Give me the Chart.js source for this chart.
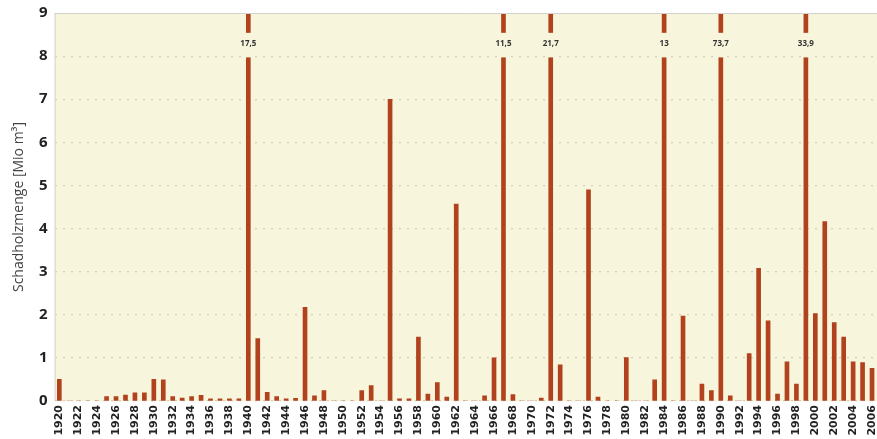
<!DOCTYPE html>
<html>
<head>
<meta charset="utf-8">
<script src="https://cdn.jsdelivr.net/npm/chart.js@4.4.0/dist/chart.umd.min.js"></script>
<style>
  html, body { margin: 0; padding: 0; background: #fff; overflow: hidden; }
  #wrap { width: 877px; height: 439px; overflow: hidden; position: relative; }
  #wrap canvas#myChart {
    display: block; position: absolute; left: 0; top: 0;
    width: 890px !important; height: 439px !important; max-width: none !important; max-height: none !important;
  }
</style>
</head>
<body>
<div id="wrap"><canvas id="myChart" width="890" height="439"></canvas></div>
<script>
const years = [
  "1920", "1921", "1922", "1923", "1924", "1925", "1926", "1927", "1928", "1929",
  "1930", "1931", "1932", "1933", "1934", "1935", "1936", "1937", "1938", "1939",
  "1940", "1941", "1942", "1943", "1944", "1945", "1946", "1947", "1948", "1949",
  "1950", "1951", "1952", "1953", "1954", "1955", "1956", "1957", "1958", "1959",
  "1960", "1961", "1962", "1963", "1964", "1965", "1966", "1967", "1968", "1969",
  "1970", "1971", "1972", "1973", "1974", "1975", "1976", "1977", "1978", "1979",
  "1980", "1981", "1982", "1983", "1984", "1985", "1986", "1987", "1988", "1989",
  "1990", "1991", "1992", "1993", "1994", "1995", "1996", "1997", "1998", "1999",
  "2000", "2001", "2002", "2003", "2004", "2005", "2006", "2007"
];

// Schadholzmenge in Mio m³
const schadholz = [
  0.5, 0, 0, 0, 0, 0.1, 0.1, 0.14, 0.19, 0.19,
  0.5, 0.49, 0.1, 0.07, 0.1, 0.13, 0.05, 0.05, 0.05, 0.05,
  17.5, 1.45, 0.2, 0.1, 0.05, 0.06, 2.17, 0.12, 0.24, 0,
  0, 0, 0.24, 0.36, 0, 7.0, 0.05, 0.05, 1.48, 0.16,
  0.43, 0.09, 4.57, 0, 0, 0.12, 1.0, 11.5, 0.15, 0,
  0, 0.07, 21.7, 0.84, 0, 0, 4.9, 0.09, 0, 0,
  1.01, 0, 0, 0.49, 13, 0, 1.97, 0, 0.39, 0.24,
  73.7, 0.12, 0, 1.1, 3.08, 1.86, 0.16, 0.91, 0.39, 33.9,
  2.03, 4.16, 1.82, 1.48, 0.91, 0.89, 0.76, 37
];

const yTicks = [0, 1, 2, 3, 4, 5, 6, 7, 8, 9];

const bgColor = "#f7f5dc";
const barColor = "#b2421d";

const breakPlugin = {
  id: "breakPlugin",
  beforeDraw(chart) {
    const { ctx, chartArea: a } = chart;
    ctx.save();
    ctx.fillStyle = bgColor;
    ctx.fillRect(a.left, a.top, a.right - a.left, a.bottom - a.top);
    ctx.restore();
  },
  afterDatasetsDraw(chart) {
    const { ctx, chartArea: a } = chart;
    const x = chart.scales.x;
    const y = chart.scales.y;
    const top = yTicks[yTicks.length - 1];
    ctx.save();
    ctx.strokeStyle = "#d2d2cc";
    ctx.lineWidth = 1;
    ctx.beginPath();
    ctx.moveTo(a.left, a.top + 0.5);
    ctx.lineTo(a.right, a.top + 0.5);
    ctx.moveTo(a.left + 0.5, a.top);
    ctx.lineTo(a.left + 0.5, a.bottom);
    ctx.stroke();

    schadholz.forEach((v, i) => {
      if (v <= top) return;
      const px = x.getPixelForValue(i);
      const y1 = y.getPixelForValue(8.54);
      const y2 = y.getPixelForValue(7.97);
      ctx.fillStyle = bgColor;
      ctx.fillRect(px - 4, y1, 8, y2 - y1);
      ctx.fillStyle = "#333";
      ctx.font = "bold 8px 'Open Sans'";
      ctx.textAlign = "center";
      ctx.textBaseline = "middle";
      ctx.fillText(String(v).replace(".", ","), px, y.getPixelForValue(8.28));
    });
    ctx.restore();
  }
};

const divChart = document.getElementById("myChart");

const myChart = new Chart(divChart, {
  type: "bar",
  data: {
    labels: years,
    datasets: [
      {
        label: "Schadholzmenge",
        data: schadholz,
        backgroundColor: barColor,
        borderWidth: 0,
        barThickness: 4,
      },
    ],
  },
  options: {
    responsive: false,
    maintainAspectRatio: false,
    animation: false,
    // canvas is wider than the window so the last bar is cut off, like the original
    layout: { padding: { top: 13, left: 0, right: 3.8, bottom: 0 } },
    plugins: {
      legend: { display: false },
      tooltip: { enabled: false },
    },
    scales: {
      x: {
        grid: { display: false, drawTicks: false },
        border: { display: false },
        ticks: {
          autoSkip: false,
          minRotation: 90,
          maxRotation: 90,
          padding: 4,
          color: "#222",
          font: { family: "DejaVu Sans", size: 11, weight: "bold" },
          callback: function (val, i) {
            return i % 2 === 0 ? this.getLabelForValue(val) : "";
          },
        },
        afterFit(scale) {
          scale.height = 38;
          scale.paddingLeft = 0;
          scale.paddingRight = 0;
        },
      },
      y: {
        min: 0,
        max: 9,
        afterBuildTicks(scale) {
          scale.ticks = yTicks.map((v) => ({ value: v }));
        },
        grid: {
          drawTicks: false,
          color: (c) => (c.tick && c.tick.value === 9 ? "rgba(0,0,0,0)" : "#cfcfc4"),
          lineWidth: 1.2,
        },
        border: { display: false, dash: [2, 6] },
        ticks: {
          padding: 7,
          color: "#222",
          font: { family: "Open Sans", size: 15, weight: "bold" },
        },
        title: {
          display: true,
          text: "Schadholzmenge [Mio m³]",
          color: "#444",
          padding: { top: 11, bottom: 0 },
          font: { family: "Open Sans", size: 14 },
        },
        afterFit(scale) {
          scale.width = 54.6;
          scale.paddingTop = 0;
          scale.paddingBottom = 0;
        },
      },
    },
  },
  plugins: [breakPlugin],
});
</script>
</body>
</html>
